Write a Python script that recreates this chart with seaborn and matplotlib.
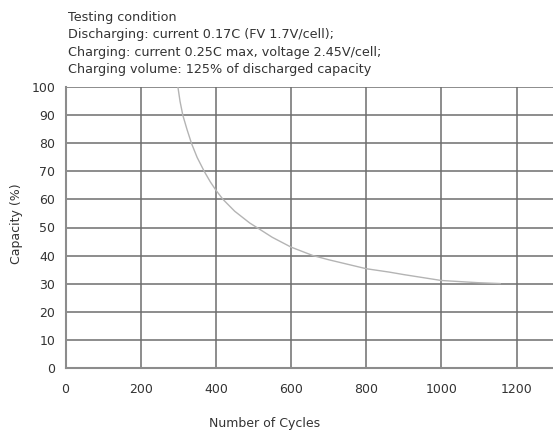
import matplotlib
matplotlib.use("Agg")
import matplotlib.pyplot as plt
import seaborn as sns
import pandas as pd

# Data
cycles = [299, 304.5, 312, 323, 335, 350, 369, 385, 400, 419, 450, 490, 509, 550, 600, 658, 700, 800, 861, 900, 1000, 1100, 1157]
capacity = [100, 95, 90, 85, 80, 75, 70, 66.3, 63.3, 60, 55.8, 51.6, 50, 46.5, 43, 40, 38.5, 35.3, 34.1, 33.2, 31.1, 30.3, 30]
x_ticks = [0, 200, 400, 600, 800, 1000, 1200]
y_ticks = [0, 10, 20, 30, 40, 50, 60, 70, 80, 90, 100]
header_lines = [
    "Testing condition",
    "Discharging: current 0.17C (FV 1.7V/cell);",
    "Charging: current 0.25C max, voltage 2.45V/cell;",
    "Charging volume: 125% of discharged capacity",
]
x_label = "Number of Cycles"
y_label = "Capacity (%)"

df = pd.DataFrame({"cycles": cycles, "capacity": capacity})

sns.set_theme(style="white")
plt.rcParams["font.family"] = ["DejaVu Sans"]
text_color = "#333333"

W, H = 553, 432
fig = plt.figure(figsize=(W / 100, H / 100), dpi=100)
left_px, right_px, top_px, bottom_px = 65.6, 553, 87.3, 367.7
ax = fig.add_axes([left_px / W, 1 - bottom_px / H, (right_px - left_px) / W, (bottom_px - top_px) / H])

sns.lineplot(data=df, x="cycles", y="capacity", ax=ax, color="#b4b4b4", linewidth=1.0, zorder=3)

ax.set_xlim(0, 1297)
ax.set_ylim(0, 100)
ax.set_xticks(x_ticks)
ax.set_yticks(y_ticks)
ax.grid(True, color="#6e6e6e", linewidth=1.1)
ax.set_axisbelow(True)
for s in ["top", "right"]:
    ax.spines[s].set_visible(False)
for s in ["left", "bottom"]:
    ax.spines[s].set_color("#8c8c8c")
    ax.spines[s].set_linewidth(1.5)

ax.tick_params(axis="both", length=0, labelsize=9, labelcolor=text_color)
ax.tick_params(axis="y", pad=7.5)
ax.tick_params(axis="x", pad=11)

ax.set_xlabel(x_label, fontsize=9, color=text_color)
ax.set_ylabel(y_label, fontsize=9, color=text_color)
ax.xaxis.set_label_coords((264.5 - left_px) / (right_px - left_px), (bottom_px - 423.3) / (bottom_px - top_px))
ax.xaxis.label.set_verticalalignment("center")
ax.yaxis.set_label_coords((16.7 - left_px) / (right_px - left_px), (bottom_px - 224) / (bottom_px - top_px))
ax.yaxis.label.set_verticalalignment("center")

for i, line in enumerate(header_lines):
    fig.text(67.7 / W, 1 - (17.3 + 17.5 * i) / H, line, fontsize=9.2, color=text_color,
             ha="left", va="center")

fig.savefig("out.png", dpi=100)
